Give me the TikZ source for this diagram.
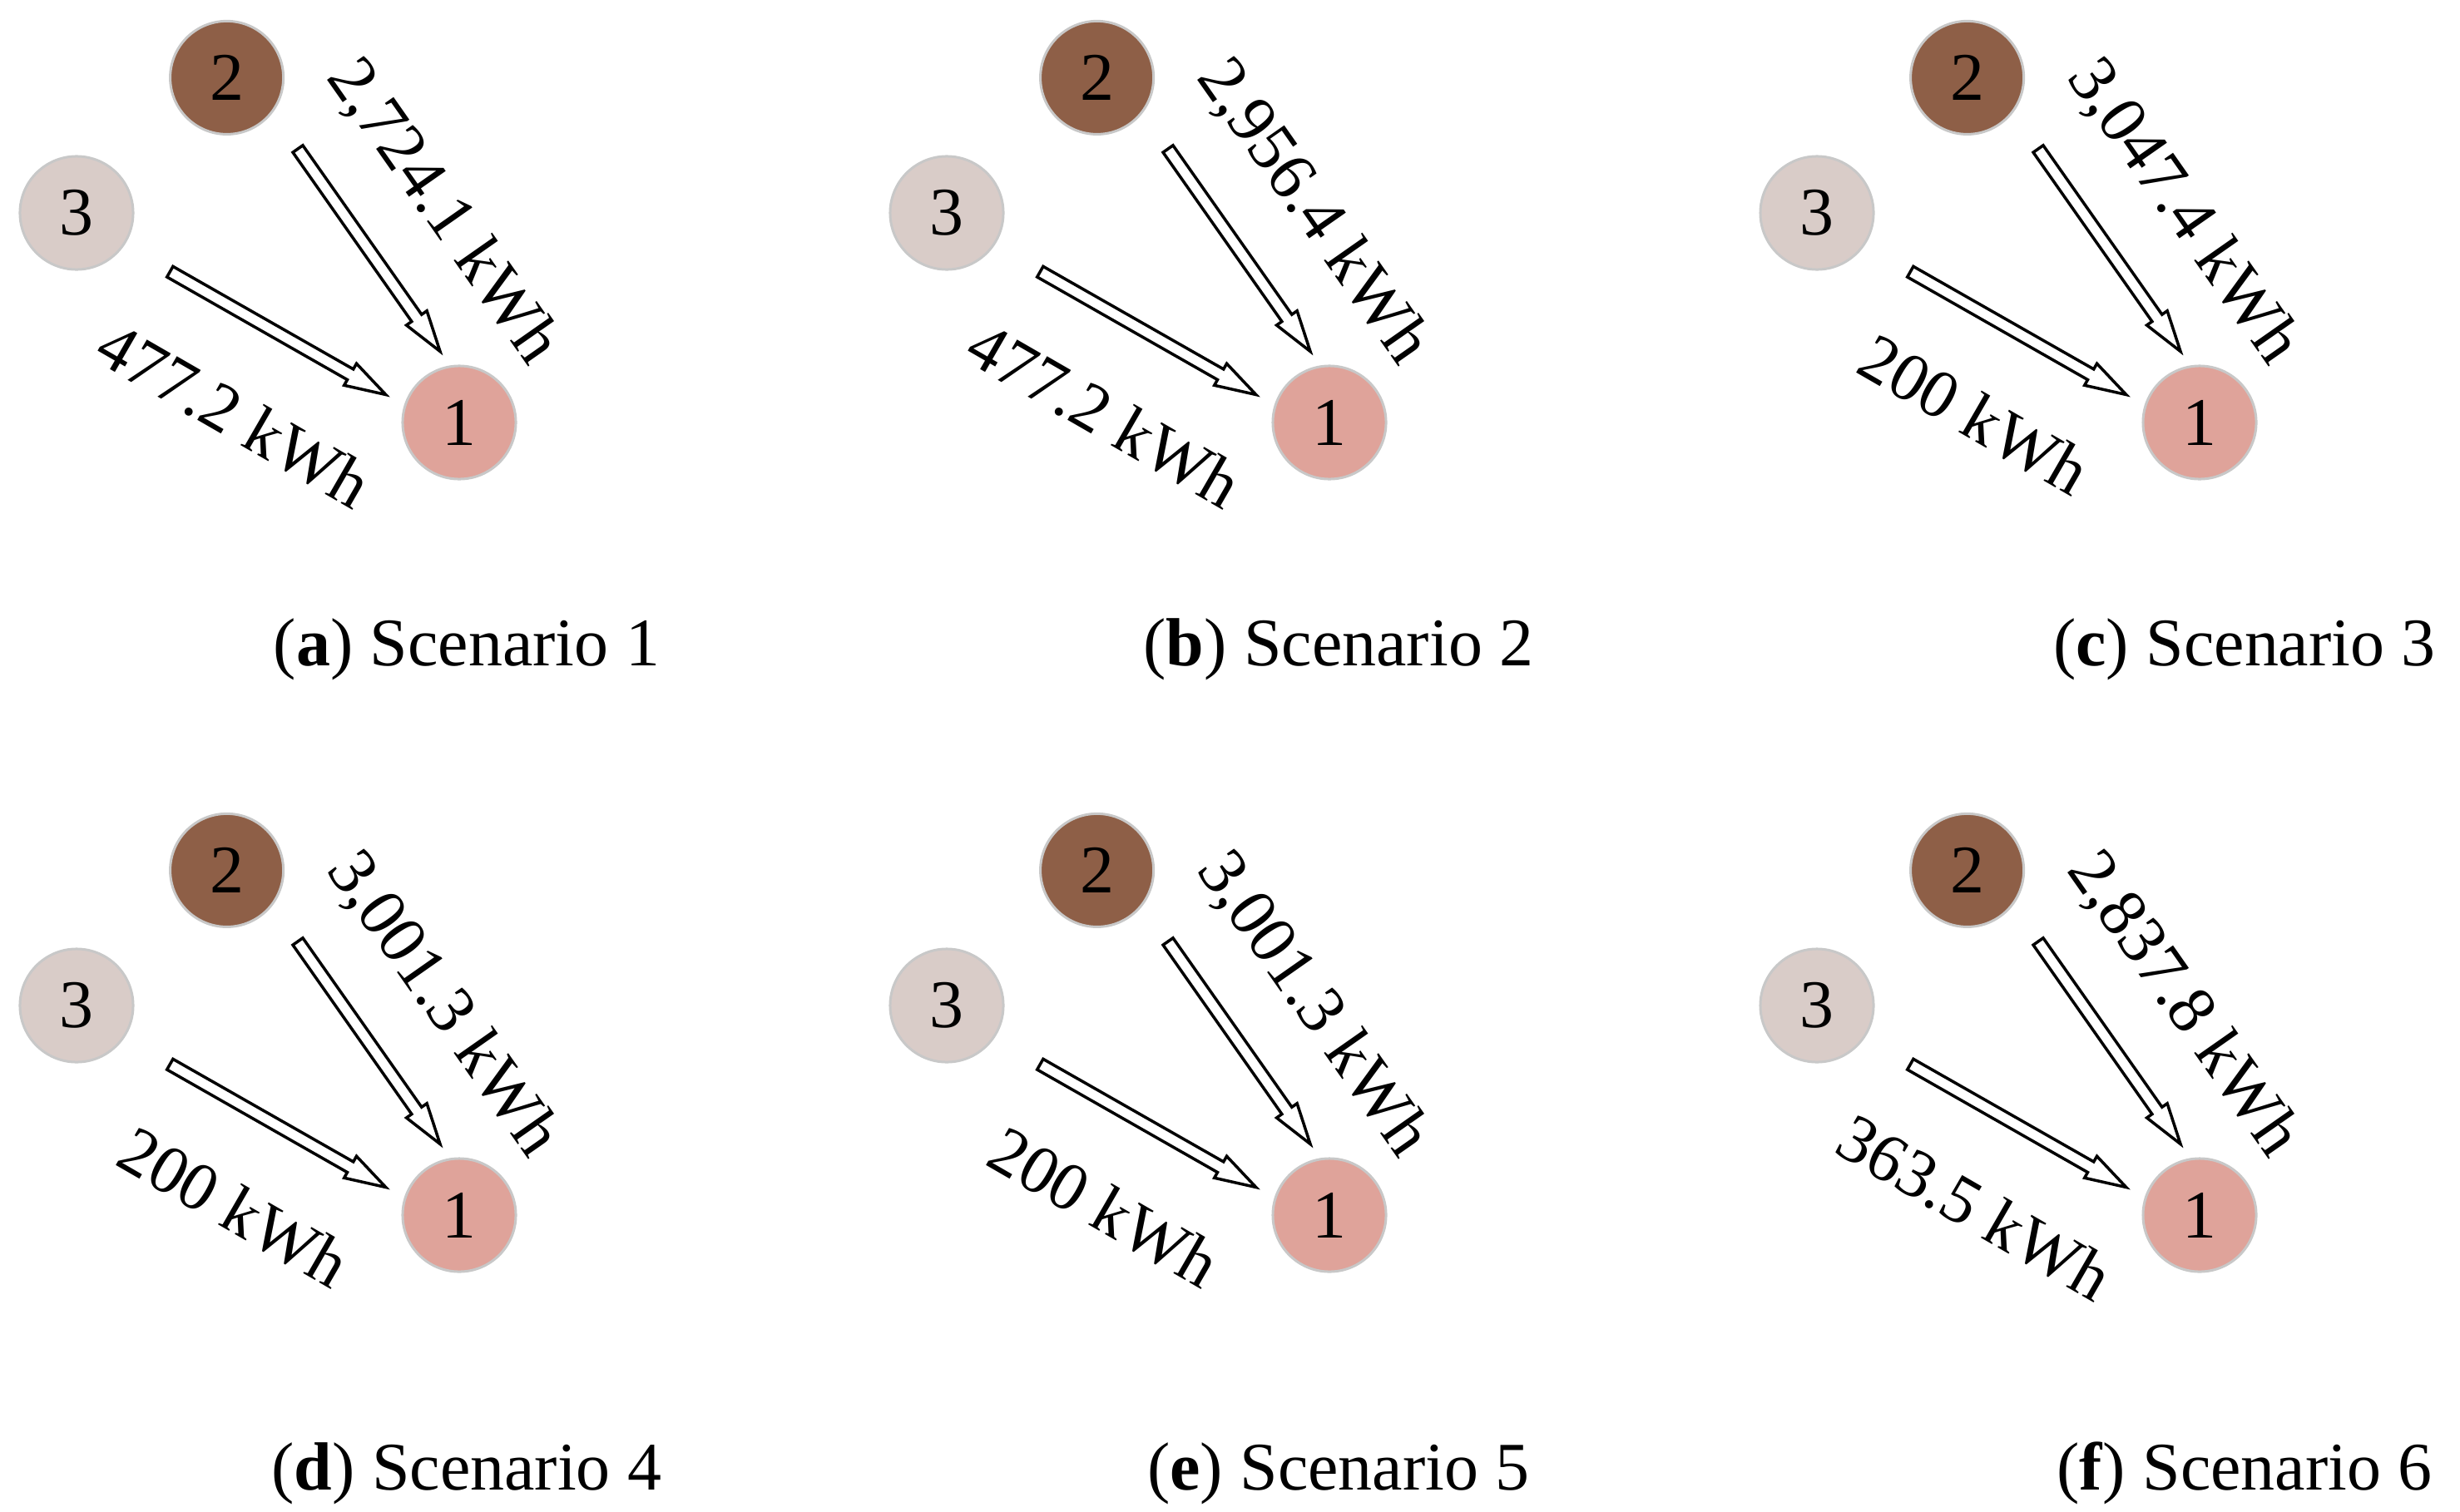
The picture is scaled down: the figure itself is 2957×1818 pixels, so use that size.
\documentclass[tikz,border=0pt]{standalone}
\usepackage{fontspec}
\setmainfont{Liberation Serif}
\usetikzlibrary{calc}
\definecolor{cone}{HTML}{DFA39A}
\definecolor{ctwo}{HTML}{8E5F47}
\definecolor{cthree}{HTML}{D9CCC8}
\definecolor{rim}{HTML}{C8C8C8}
\tikzset{
  bus/.style={circle, inner sep=0pt, minimum size=1.36cm, draw=rim, line width=0.03cm},
  flow/.style={draw=black, fill=white, line width=0.035cm, line join=miter},
  lbl/.style={inner sep=0pt, text depth=0pt},
  captext/.style={inner sep=0pt, anchor=base}
}
\newcommand\hollowarrow[2]{%
  \coordinate (hb) at ($(#2)!0.49cm!(#1)$);
  \draw[flow] ($(#1)!0.073cm!90:(#2)$) -- ($(hb)!0.073cm!90:(#2)$) -- ($(hb)!0.15cm!90:(#2)$) -- (#2)
     -- ($(hb)!0.15cm!-90:(#2)$) -- ($(hb)!0.073cm!-90:(#2)$) -- ($(#1)!0.073cm!-90:(#2)$) -- cycle;
}
% #1 id, #2 x shift, #3 y shift, #4 label of 2->1, #5 label of 3->1
\newcommand\scenariopanel[5]{%
  \begin{scope}[shift={(#2,-#3)}]
    \node[bus, fill=ctwo] (#1-n2) at (272.6,-93.4) {2};
    \node[bus, fill=cthree] (#1-n3) at (92,-256) {3};
    \node[bus, fill=cone] (#1-n1) at (552,-508) {1};
    \coordinate (#1-s2) at ($(#1-n2)+(85.4,-85.6)$);
    \coordinate (#1-e2) at ($(#1-n1)+(-23,85.5)$);
    \coordinate (#1-s3) at ($(#1-n3)+(112.3,-70.7)$);
    \coordinate (#1-e3) at ($(#1-n1)+(-88.3,33.5)$);
    \hollowarrow{#1-s2}{#1-e2}
    \hollowarrow{#1-s3}{#1-e3}
    \node[lbl, rotate=-55] (#1-l2) at (537,-251) {#4};
    \node[lbl, rotate=-30] (#1-l3) at (282,-498) {#5};
  \end{scope}
}
\begin{document}
\begin{tikzpicture}[x=0.01cm, y=0.01cm, font=\fontsize{23.3}{28}\selectfont]
  \useasboundingbox (0,0) rectangle (2957,-1818);
  \scenariopanel{a}{0}{0}{2,724.1 kWh}{477.2 kWh}
  \scenariopanel{b}{1046}{0}{2,956.4 kWh}{477.2 kWh}
  \scenariopanel{c}{2092}{0}{3,047.4 kWh}{200 kWh}
  \scenariopanel{d}{0}{953}{3,001.3 kWh}{200 kWh}
  \scenariopanel{e}{1046}{953}{3,001.3 kWh}{200 kWh}
  \scenariopanel{f}{2092}{953}{2,837.8 kWh}{363.5 kWh}
  \node[captext] (capa) at (561,-800) {(\textbf{a}) Scenario 1};
  \node[captext] (capb) at (1609,-800) {(\textbf{b}) Scenario 2};
  \node[captext] (capc) at (2698,-800) {(\textbf{c}) Scenario 3};
  \node[captext] (capd) at (561,-1791) {(\textbf{d}) Scenario 4};
  \node[captext] (cape) at (1609,-1791) {(\textbf{e}) Scenario 5};
  \node[captext] (capf) at (2698,-1791) {(\textbf{f}) Scenario 6};
\end{tikzpicture}
\end{document}
